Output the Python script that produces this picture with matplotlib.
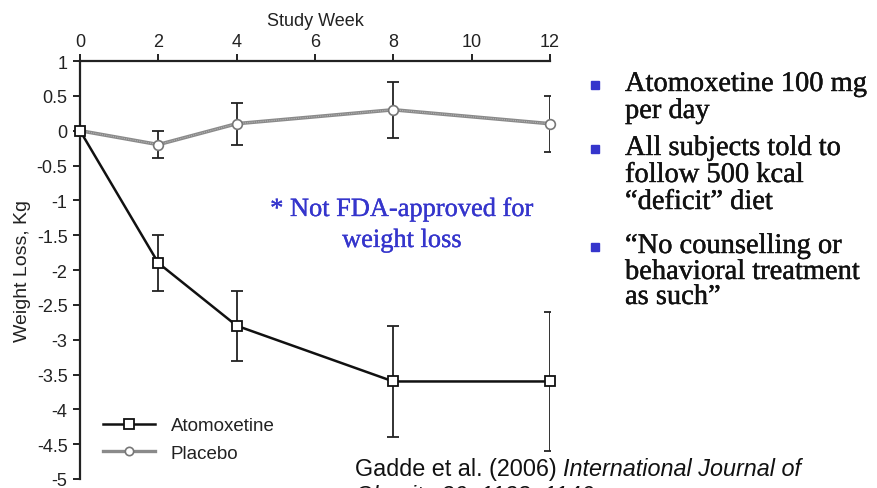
import matplotlib
matplotlib.use('Agg')
import matplotlib.pyplot as plt
import matplotlib.patheffects as pe
from matplotlib.lines import Line2D

plt.rcParams['font.family'] = ['Liberation Sans', 'DejaVu Sans']

W, H = 878, 489

# weight change (kg) by study week
weeks = [0, 2, 4, 8, 12]
atomox = [0, -1.9, -2.8, -3.6, -3.6]
atomox_err = [0, 0.4, 0.5, 0.8, 1.0]
placebo = [0, -0.2, 0.1, 0.3, 0.1]
placebo_err = [0, 0.19, 0.3, 0.4, 0.4]

xticks = [0, 2, 4, 6, 8, 10, 12]
yticks = [1, 0.5, 0, -0.5, -1, -1.5, -2, -2.5, -3, -3.5, -4, -4.5, -5]

bullets = [
    ["Atomoxetine 100 mg", "per day"],
    ["All subjects told to", "follow 500 kcal", "\u201cdeficit\u201d diet"],
    ["\u201cNo counselling or", "behavioral treatment", "as such\u201d"],
]
bullet_baselines = [[92, 119], [156, 183, 210], [254, 280, 305]]

blue = '#3535cc'
ink = '#222222'
thick = [pe.withStroke(linewidth=0.3, foreground='#111111')]
thick_blue = [pe.withStroke(linewidth=0.25, foreground=blue)]

fig = plt.figure(figsize=(W / 100, H / 100), dpi=100)

def fx(px):
    return px / W

def fy(py):
    return 1 - py / H

ax = fig.add_axes([fx(80), fy(480), fx(550) - fx(80), fy(62) - fy(480)])
ax.set_xlim(0, 12)
ax.set_ylim(-5, 1)

# placebo: grey line, open circles
ax.errorbar(weeks[1:], placebo[1:], yerr=placebo_err[1:], fmt='none',
            ecolor=ink, elinewidth=1.3, capsize=4, capthick=1.3, zorder=2)
ax.plot(weeks, placebo, color='#8a8a8a', lw=2.6, zorder=3)
ax.plot(weeks, placebo, color='#b5b5b5', lw=0.8, ls=(0, (1, 1)), zorder=3)
ax.plot(weeks, placebo, ls='none', marker='o', ms=7, mfc='white',
        mec='#777777', mew=1.2, zorder=4, clip_on=False)

# atomoxetine: black line, open squares
ax.errorbar(weeks[1:], atomox[1:], yerr=atomox_err[1:], fmt='none',
            ecolor=ink, elinewidth=1.3, capsize=4, capthick=1.3, zorder=2)
ax.plot(weeks, atomox, color='#111111', lw=1.8, marker='s', ms=7,
        mfc='white', mec='#111111', mew=1.3, zorder=5, clip_on=False)

for s in ['right', 'bottom']:
    ax.spines[s].set_visible(False)
for s in ['top', 'left']:
    ax.spines[s].set_linewidth(1.6)
    ax.spines[s].set_color(ink)

ax.xaxis.set_ticks_position('top')
ax.xaxis.set_label_position('top')
ax.set_xticks(xticks)
ax.set_yticks(yticks)
ax.set_yticklabels([('%g' % v) for v in yticks])
ax.tick_params(axis='both', direction='out', length=5, width=1.4,
               colors=ink, labelsize=13, labelcolor=ink)
ax.tick_params(axis='x', pad=3)
ax.tick_params(axis='y', pad=4)
ax.set_xlabel('Study Week', fontsize=13, labelpad=6, color=ink)
ax.set_ylabel('Weight Loss, Kg', fontsize=14, labelpad=4, color=ink)

handles = [
    Line2D([], [], color='#111111', lw=1.8, marker='s', ms=7, mfc='white',
           mec='#111111', mew=1.3),
    Line2D([], [], color='#8a8a8a', lw=2.4, marker='o', ms=6, mfc='white',
           mec='#777777', mew=1.2),
]
fig.legend(handles, ['Atomoxetine', 'Placebo'], loc='upper left',
           bbox_to_anchor=(fx(103), fy(418)), frameon=False, borderpad=0,
           borderaxespad=0, handlelength=2.8, handletextpad=0.8,
           labelspacing=0.55, fontsize=13.5, labelcolor=ink)

# note in the middle of the plot
for txt, b in [('* Not FDA-approved for', 217), ('weight loss', 248)]:
    fig.text(fx(402), fy(b), txt, color=blue, family='Liberation Serif',
             fontsize=19, ha='center', va='baseline', path_effects=thick_blue)

# bullet list on the right
for lines, bases in zip(bullets, bullet_baselines):
    fig.patches.append(plt.Rectangle((fx(591), fy(bases[0] - 2)),
                                     fx(8), 8 / H, color=blue,
                                     transform=fig.transFigure, figure=fig))
    for line, b in zip(lines, bases):
        fig.text(fx(625), fy(b), line, family='Liberation Serif',
                 fontsize=20.5, color='#111111', va='baseline',
                 path_effects=thick)

# reference
ref = fig.text(fx(355), fy(476), 'Gadde et al. (2006)', fontsize=16.8,
               va='baseline', color='#111111')
renderer = fig.canvas.get_renderer()
ref_end = ref.get_window_extent(renderer).x1
fig.text(fx(ref_end + 6), fy(476), 'International Journal of',
         style='italic', fontsize=16.8, va='baseline', color='#111111')
fig.text(fx(355), fy(503), 'Obesity 30, 1138\u20131146',
         style='italic', fontsize=16.8, va='baseline', color='#111111')

fig.savefig('out.png', dpi=100)
